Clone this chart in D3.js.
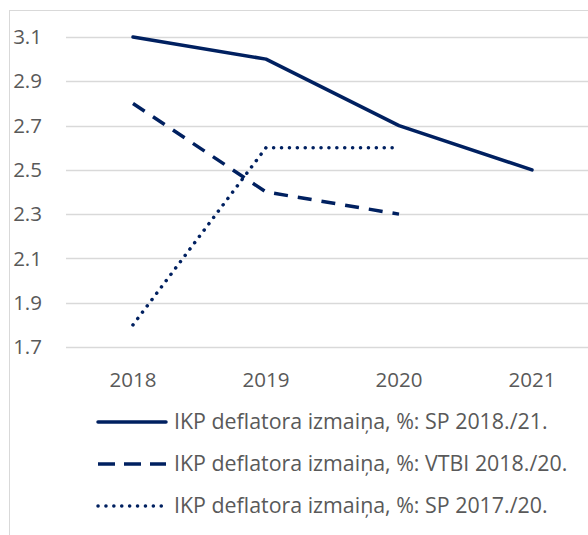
<!DOCTYPE html>
<html><head><meta charset="utf-8">
<script src="https://cdn.jsdelivr.net/npm/d3@7"></script>
<style>body{margin:0;background:#fff}svg{display:block}</style>
</head><body>
<script>
const categories = ["2018","2019","2020","2021"];
const sp1821 = [3.1, 3.0, 2.7, 2.5];
const vtbi1820 = [2.8, 2.4, 2.3, null];
const sp1720 = [1.8, 2.6, 2.6, null];
const yTicks = [1.7, 1.9, 2.1, 2.3, 2.5, 2.7, 2.9, 3.1];
const seriesNames = [
  "IKP deflatora izmaiņa, %: SP 2018./21.",
  "IKP deflatora izmaiņa, %: VTBI 2018./20.",
  "IKP deflatora izmaiņa, %: SP 2017./20."
];

const W = 588, H = 535;
const color = "#002060";
const font = "'Open Sans', Lato, sans-serif";
const svg = d3.select("body").append("svg").attr("width", W).attr("height", H);

function fitSize(str, target) {
  const t = svg.append("text").attr("font-family", font).attr("font-size", 20).text(str);
  const w = t.node().getComputedTextLength();
  t.remove();
  return 20 * target / w;
}
const tickSize = fitSize("2018", 47);
const legSize = fitSize(seriesNames[0], 374);

// chart frame
svg.append("rect").attr("x", 9.5).attr("y", 10.5).attr("width", 640).attr("height", 600)
  .attr("fill", "none").attr("stroke", "#d9d9d9").attr("stroke-width", 1);

const x = d3.scaleBand().domain(categories).range([66.5, 598.5]);
const y = d3.scaleLinear().domain([1.7, 3.1]).range([347, 37]);

// gridlines
svg.append("g").selectAll("line").data(yTicks).join("line")
  .attr("x1", 66).attr("x2", 620)
  .attr("y1", d => Math.round(y(d)) + 0.5).attr("y2", d => Math.round(y(d)) + 0.5)
  .attr("stroke", "#d9d9d9").attr("stroke-width", 1.5);

// y labels
svg.append("g").selectAll("text").data(yTicks).join("text")
  .attr("x", 42).attr("y", d => y(d)).attr("dy", "0.35em")
  .attr("text-anchor", "end").attr("font-family", font).attr("font-size", tickSize)
  .attr("fill", "#595959").text(d => d.toFixed(1));

// x labels
svg.append("g").selectAll("text").data(categories).join("text")
  .attr("x", d => x(d) + x.bandwidth() / 2).attr("y", 380).attr("dy", "0.35em")
  .attr("text-anchor", "middle").attr("font-family", font).attr("font-size", tickSize)
  .attr("fill", "#595959").text(d => d);

const styles = [
  {dash: null, cap: "round"},
  {dash: "14 10", cap: "butt"},
  {dash: "0.1 7.8", cap: "round"}
];
const allSeries = [sp1821, vtbi1820, sp1720];

const line = d3.line()
  .defined(d => d.v != null)
  .x(d => x(d.c) + x.bandwidth() / 2)
  .y(d => y(d.v));

allSeries.forEach((s, i) => {
  const data = categories.map((c, j) => ({c, v: s[j]}));
  svg.append("path").datum(data).attr("d", line)
    .attr("fill", "none").attr("stroke", color).attr("stroke-width", 3.5)
    .attr("stroke-linejoin", "round").attr("stroke-linecap", styles[i].cap)
    .attr("stroke-dasharray", styles[i].dash);
});

// legend
const legY = [422, 464, 506];
const leg = svg.append("g");
seriesNames.forEach((name, i) => {
  leg.append("line").attr("x1", 98).attr("x2", 166).attr("y1", legY[i]).attr("y2", legY[i])
    .attr("stroke", color).attr("stroke-width", 3.5)
    .attr("stroke-linecap", styles[i].cap)
    .attr("stroke-dasharray", i === 1 ? "17 9" : styles[i].dash);
  leg.append("text").attr("x", 174).attr("y", legY[i]).attr("dy", "0.35em")
    .attr("font-family", font).attr("font-size", legSize).attr("fill", "#595959").text(name);
});
</script>
</body></html>
